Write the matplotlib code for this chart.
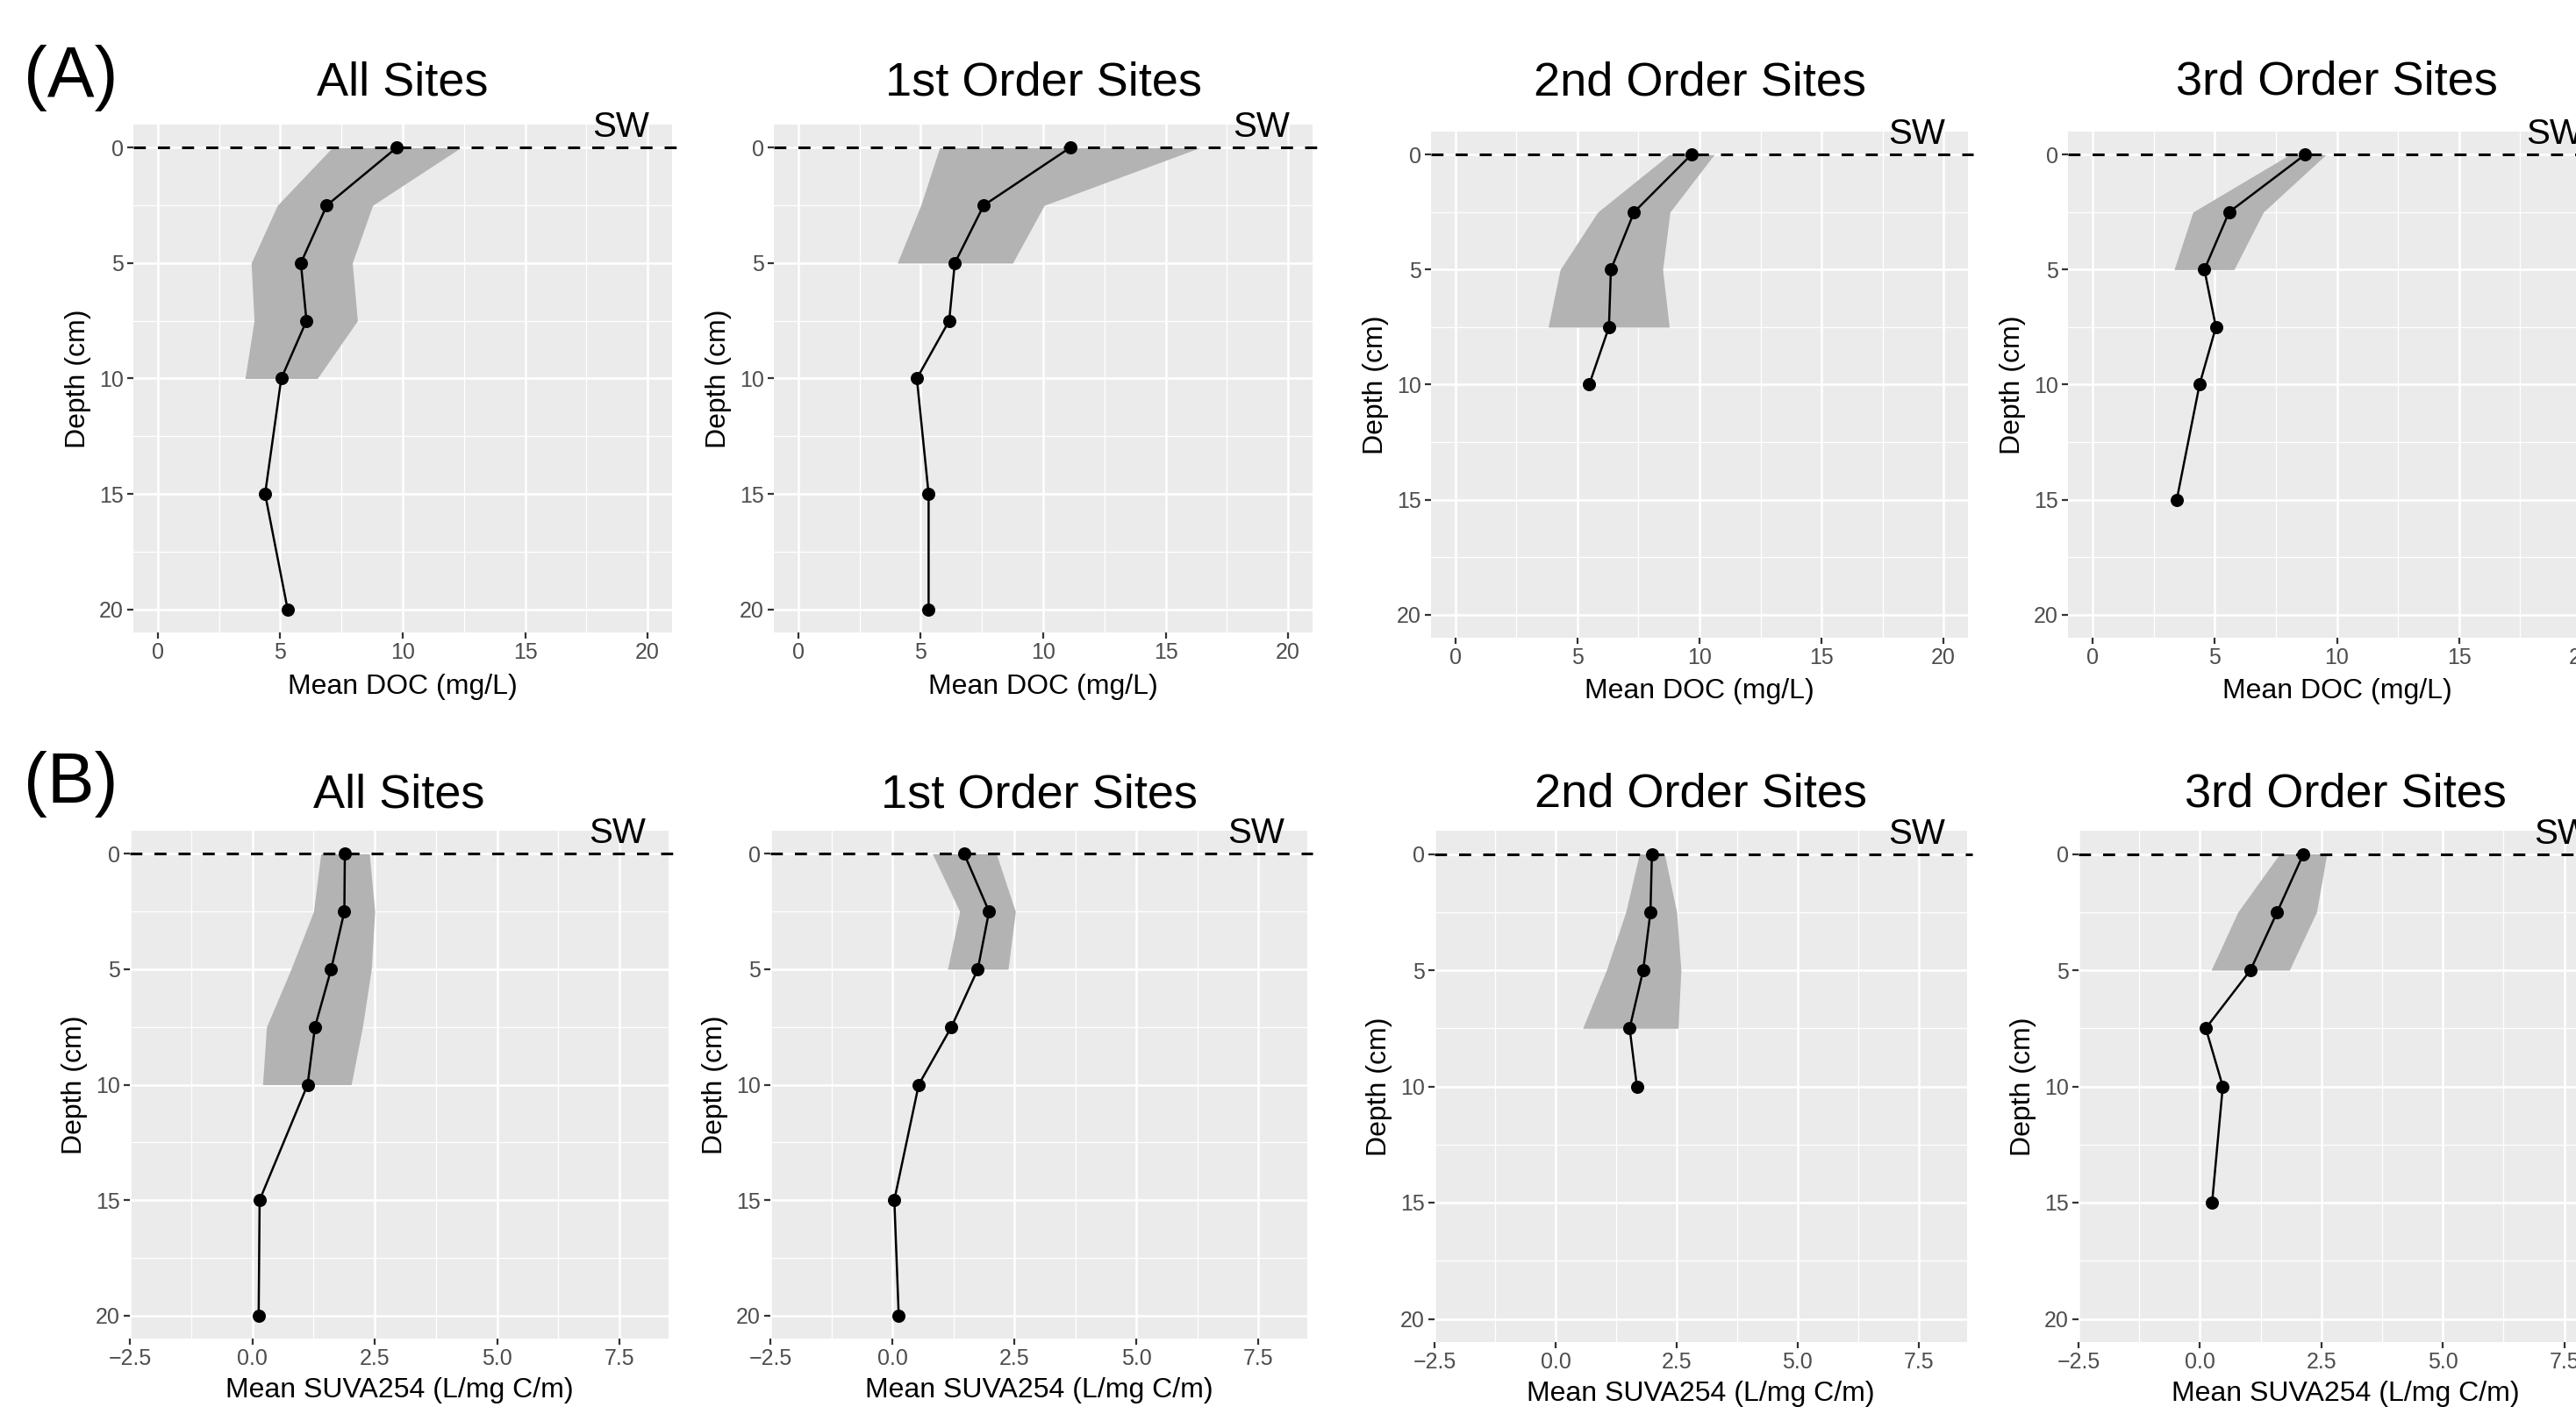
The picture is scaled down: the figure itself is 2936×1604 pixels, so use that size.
import matplotlib
matplotlib.use("Agg")
import matplotlib.pyplot as plt
import matplotlib.transforms as mtransforms

plt.rcParams['font.family'] = ['Liberation Sans', 'DejaVu Sans']

W, H = 2936, 1604
DPI = 200

# ---------------- data ----------------
panel_titles = ["All Sites", "1st Order Sites", "2nd Order Sites", "3rd Order Sites"]
row_labels = ["(A)", "(B)"]

depth_all = [0, 2.5, 5, 7.5, 10, 15, 20]
depth_1st = [0, 2.5, 5, 7.5, 10, 15, 20]
depth_2nd = [0, 2.5, 5, 7.5, 10]
depth_3rd = [0, 2.5, 5, 7.5, 10, 15]

rib_depth_all = [0, 2.5, 5, 7.5, 10]
rib_depth_1st = [0, 2.5, 5]
rib_depth_2nd = [0, 2.5, 5, 7.5]
rib_depth_3rd = [0, 2.5, 5]

# Mean DOC (mg/L)
doc_all = [9.75, 6.9, 5.84, 6.07, 5.04, 4.38, 5.3]
doc_1st = [11.1, 7.57, 6.39, 6.16, 4.84, 5.32, 5.32]
doc_2nd = [9.67, 7.32, 6.37, 6.29, 5.48]
doc_3rd = [8.7, 5.59, 4.58, 5.05, 4.38, 3.45]

doc_all_lo = [7.12, 4.88, 3.81, 3.93, 3.56]
doc_all_hi = [12.37, 8.77, 7.94, 8.15, 6.51]
doc_1st_lo = [5.77, 5.0, 4.04]
doc_1st_hi = [16.4, 10.04, 8.75]
doc_2nd_lo = [8.76, 5.83, 4.29, 3.8]
doc_2nd_hi = [10.6, 8.79, 8.49, 8.76]
doc_3rd_lo = [8.07, 4.11, 3.34]
doc_3rd_hi = [9.55, 6.99, 5.79]

# Mean SUVA254 (L/mg C/m)
suva_all = [1.89, 1.88, 1.61, 1.28, 1.13, 0.15, 0.13]
suva_1st = [1.47, 1.98, 1.75, 1.21, 0.54, 0.04, 0.13]
suva_2nd = [1.99, 1.96, 1.81, 1.53, 1.68]
suva_3rd = [2.13, 1.59, 1.04, 0.12, 0.47, 0.25]

suva_all_lo = [1.40, 1.25, 0.79, 0.29, 0.21]
suva_all_hi = [2.39, 2.50, 2.43, 2.25, 2.02]
suva_1st_lo = [0.82, 1.38, 1.13]
suva_1st_hi = [2.13, 2.52, 2.37]
suva_2nd_lo = [1.73, 1.45, 1.05, 0.56]
suva_2nd_hi = [2.25, 2.50, 2.59, 2.53]
suva_3rd_lo = [1.64, 0.78, 0.23]
suva_3rd_hi = [2.61, 2.40, 1.84]

doc_xticks = [0, 5, 10, 15, 20]
doc_xticklabels = ["0", "5", "10", "15", "20"]
suva_xticks = [-2.5, 0, 2.5, 5, 7.5]
suva_xticklabels = ["\u22122.5", "0.0", "2.5", "5.0", "7.5"]
depth_ticks = [0, 5, 10, 15, 20]
depth_ticklabels = ["0", "5", "10", "15", "20"]

sw_label = "SW"
sw_depth = 0

rows = [
    dict(xlabel="Mean DOC (mg/L)", xlim=(-1, 21), xticks=doc_xticks,
         xticklabels=doc_xticklabels,
         xminor=[2.5, 7.5, 12.5, 17.5],
         depths=[depth_all, depth_1st, depth_2nd, depth_3rd],
         means=[doc_all, doc_1st, doc_2nd, doc_3rd],
         rdepths=[rib_depth_all, rib_depth_1st, rib_depth_2nd, rib_depth_3rd],
         lows=[doc_all_lo, doc_1st_lo, doc_2nd_lo, doc_3rd_lo],
         highs=[doc_all_hi, doc_1st_hi, doc_2nd_hi, doc_3rd_hi],
         boxes=[(152, 142, 766, 721), (882, 142, 1496, 721),
                (1631, 150, 2243, 727), (2357, 150, 2970, 727)],
         title_pads=[12, 12, 14.8, 15.2], xlabelpad=4, label_pos=(27, 110)),
    dict(xlabel="Mean SUVA254 (L/mg C/m)", xlim=(-2.5, 8.5), xticks=suva_xticks,
         xticklabels=suva_xticklabels,
         xminor=[-1.25, 1.25, 3.75, 6.25],
         depths=[depth_all, depth_1st, depth_2nd, depth_3rd],
         means=[suva_all, suva_1st, suva_2nd, suva_3rd],
         rdepths=[rib_depth_all, rib_depth_1st, rib_depth_2nd, rib_depth_3rd],
         lows=[suva_all_lo, suva_1st_lo, suva_2nd_lo, suva_3rd_lo],
         highs=[suva_all_hi, suva_1st_hi, suva_2nd_hi, suva_3rd_hi],
         boxes=[(148, 947, 762, 1526), (878, 947, 1490, 1526),
                (1635, 947, 2242, 1530), (2369, 947, 2978, 1530)],
         title_pads=[9.5, 9.5, 9.8, 9.8], xlabelpad=3, label_pos=(27, 915)),
]

fig = plt.figure(figsize=(W / DPI, H / DPI), dpi=DPI, facecolor="white")

for row, rlabel in zip(rows, row_labels):
    fig.text(row["label_pos"][0] / W, 1 - row["label_pos"][1] / H, rlabel,
             fontsize=29, ha="left", va="baseline", color="black")
    for i in range(4):
        l, t, r, b = row["boxes"][i]
        ax = fig.add_axes([l / W, 1 - b / H, (r - l) / W, (b - t) / H])
        ax.set_facecolor("#EBEBEB")
        for s in ax.spines.values():
            s.set_visible(False)
        ax.set_xlim(*row["xlim"])
        ax.set_ylim(21, -1)
        # grid
        for xm in row["xminor"]:
            ax.axvline(xm, color="white", lw=0.45, zorder=0.5)
        for ym in [2.5, 7.5, 12.5, 17.5]:
            ax.axhline(ym, color="white", lw=0.45, zorder=0.5)
        for xm in row["xticks"]:
            ax.axvline(xm, color="white", lw=0.9, zorder=0.6)
        for ym in depth_ticks:
            ax.axhline(ym, color="white", lw=0.9, zorder=0.6)
        ax.set_xticks(row["xticks"])
        ax.set_xticklabels(row["xticklabels"])
        ax.set_yticks(depth_ticks)
        ax.set_yticklabels(depth_ticklabels)
        ax.tick_params(axis="both", length=2.6, width=0.8, color="#333333",
                       labelsize=9, labelcolor="#4D4D4D", pad=1.5)
        # ribbon
        ax.fill_betweenx(row["rdepths"][i], row["lows"][i], row["highs"][i],
                         color="#B3B3B3", lw=0, zorder=1)
        # mean profile
        ax.plot(row["means"][i], row["depths"][i], color="black", lw=0.9,
                marker="o", markersize=4.4, zorder=3)
        # SW line
        trans = mtransforms.blended_transform_factory(ax.transAxes, ax.transData)
        ax.plot([0, 1.01], [sw_depth, sw_depth], transform=trans, color="black",
                lw=1.1, ls=(0, (4.5, 4.5)), clip_on=False, zorder=4)
        ax.text(0.905, sw_depth - 0.45, sw_label, transform=trans, ha="center",
                va="baseline", fontsize=14.5, color="black", clip_on=False)
        ax.set_title(panel_titles[i], fontsize=19.5, pad=row["title_pads"][i],
                     color="black")
        ax.set_xlabel(row["xlabel"], fontsize=11.5, labelpad=row["xlabelpad"],
                      color="black")
        ax.set_ylabel("Depth (cm)", fontsize=11.5, labelpad=3, color="black")

fig.savefig("out.png", dpi=DPI, facecolor="white")
